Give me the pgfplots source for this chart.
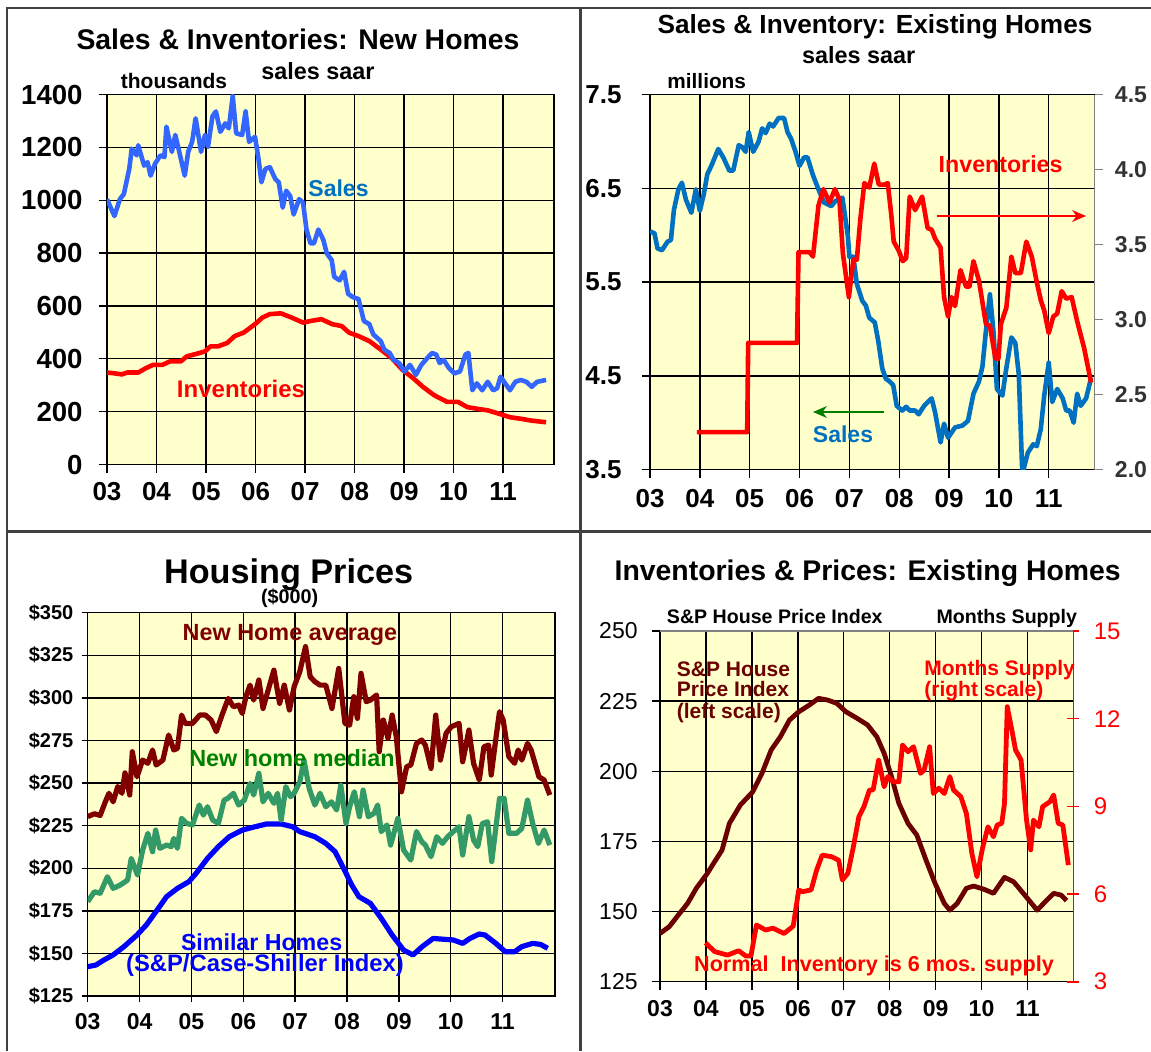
\documentclass[border=0pt]{standalone}
\usepackage{fontspec}
\setmainfont{Liberation Sans}
\usepackage{pgfplots}
\pgfplotsset{compat=1.18}
\usetikzlibrary{arrows.meta}

\definecolor{bgy}{HTML}{FFFFCC}
\definecolor{salesA}{HTML}{3366FF}
\definecolor{salesB}{HTML}{0070C0}
\definecolor{dred}{HTML}{800000}
\definecolor{ddred}{HTML}{6B0000}
\definecolor{mgreen}{HTML}{339966}
\definecolor{tgreen}{HTML}{008000}
\definecolor{frame}{HTML}{404040}

\newcommand{\tf}[1]{\fontsize{#1}{#1}\selectfont\bfseries}
\newcommand{\rf}[1]{\fontsize{#1}{#1}\selectfont}

\pgfplotsset{
  panel/.style={
    scale only axis, anchor=south west, xmin=3,
    xtick={3,...,11}, xticklabels={03,04,05,06,07,08,09,10,11},
    grid=major, major grid style={black, line width=0.7pt},
    axis line style={black, line width=0.7pt},
    tick style={black, line width=0.7pt},
    tick align=outside, major tick length=4pt,
    xtick pos=bottom, ytick pos=left,
    axis background/.style={fill=bgy},
    /pgf/number format/assume math mode=true,
    every axis plot/.append style={line join=round},
  },
  twin/.style={
    scale only axis, anchor=south west, xmin=3,
    axis x line=none, axis y line*=right,
    tick align=outside, major tick length=4pt,
    /pgf/number format/assume math mode=true,
    every axis plot/.append style={line join=round},
  },
}

\begin{document}
\begin{tikzpicture}
\fill[white] (0,0) rectangle (575.5pt,-525.5pt);
\useasboundingbox (0,0) rectangle (575.5pt,-525.5pt);

% ---------------- Panel 1 ----------------
\begin{axis}[panel, at={(53.5pt,-232.25pt)}, width=223.5pt, height=185pt,
  xmax=12.03, ymin=0, ymax=1400,
  ytick={0,200,400,600,800,1000,1200,1400},
  yticklabels={0,200,400,600,800,1000,1200,1400},
  yticklabel style={anchor=east, inner sep=0pt, xshift=-8pt, font=\tf{13.8}},
  xticklabel style={anchor=center, yshift=-9.5pt, font=\tf{13}},
]
\addplot[red, line width=2.3pt, no markers] coordinates {
(3.00,348)(3.15,345)(3.30,341)(3.41,348)(3.63,348)(3.78,364)(3.93,377)(4.12,377)(4.27,390)(4.49,390)(4.61,409)(4.87,422)(4.98,428)(5.09,447)(5.24,447)(5.43,460)(5.58,486)(5.76,499)(5.99,531)(6.14,556)(6.29,569)(6.51,572)(6.73,556)(6.96,537)(7.11,543)(7.33,550)(7.55,531)(7.74,524)(7.89,499)(8.08,486)(8.30,467)(8.53,435)(8.75,403)(8.97,358)(9.19,326)(9.38,294)(9.61,262)(9.87,237)(10.09,237)(10.28,217)(10.47,211)(10.69,205)(10.92,192)(11.14,179)(11.36,173)(11.58,166)(11.87,160)};
\addplot[salesA, line width=2.3pt, no markers] coordinates {
(3.00,1004)(3.15,940)(3.26,1004)(3.34,1023)(3.45,1119)(3.50,1195)(3.60,1170)(3.63,1208)(3.75,1131)(3.82,1144)(3.88,1093)(3.97,1138)(4.08,1170)(4.16,1163)(4.20,1278)(4.31,1183)(4.38,1247)(4.46,1183)(4.57,1093)(4.64,1183)(4.72,1221)(4.79,1310)(4.90,1183)(4.98,1247)(5.04,1202)(5.13,1317)(5.20,1336)(5.29,1259)(5.39,1291)(5.46,1272)(5.54,1394)(5.61,1253)(5.73,1247)(5.80,1336)(5.87,1221)(5.99,1240)(6.06,1157)(6.12,1068)(6.20,1119)(6.29,1125)(6.40,1080)(6.47,1068)(6.55,972)(6.62,1036)(6.70,1016)(6.77,946)(6.88,1004)(6.96,991)(7.03,889)(7.11,837)(7.18,837)(7.27,889)(7.37,850)(7.44,799)(7.54,773)(7.59,710)(7.70,697)(7.79,729)(7.87,646)(7.97,633)(8.08,626)(8.19,543)(8.30,531)(8.38,492)(8.53,467)(8.60,435)(8.71,422)(8.79,396)(8.90,384)(9.01,352)(9.12,377)(9.24,339)(9.35,377)(9.50,409)(9.57,422)(9.65,416)(9.72,384)(9.80,396)(9.91,364)(10.02,345)(10.13,352)(10.24,416)(10.30,422)(10.38,281)(10.47,307)(10.58,281)(10.69,313)(10.80,281)(10.88,288)(10.95,332)(11.07,300)(11.14,281)(11.25,313)(11.36,320)(11.47,313)(11.58,294)(11.69,313)(11.87,320)};
\end{axis}

% ---------------- Panel 2 ----------------
\begin{axis}[panel, at={(325pt,-234.8pt)}, width=222.3pt, height=187.5pt,
  xmax=11.92, ymin=3.5, ymax=7.5,
  ytick={3.5,4.5,5.5,6.5,7.5}, yticklabels={3.5,4.5,5.5,6.5,7.5},
  yticklabel style={anchor=east, inner sep=0pt, xshift=-10pt, font=\tf{13}},
  xticklabel style={anchor=center, yshift=-10.4pt, font=\tf{13}},
]
\addplot[salesB, line width=2.3pt, no markers] coordinates {
(3.00,6.04)(3.09,6.02)(3.15,5.86)(3.24,5.84)(3.35,5.93)(3.42,5.95)(3.48,6.27)(3.57,6.49)(3.64,6.56)(3.72,6.38)(3.83,6.24)(3.92,6.49)(4.00,6.26)(4.08,6.44)(4.15,6.65)(4.23,6.74)(4.37,6.92)(4.48,6.82)(4.59,6.69)(4.67,6.69)(4.78,6.96)(4.85,6.94)(4.92,6.89)(4.98,7.10)(5.07,6.89)(5.18,7.00)(5.25,7.14)(5.32,7.09)(5.40,7.19)(5.47,7.16)(5.58,7.25)(5.69,7.25)(5.76,7.10)(5.83,7.03)(5.92,6.89)(6.00,6.74)(6.09,6.83)(6.16,6.83)(6.27,6.64)(6.38,6.49)(6.49,6.35)(6.64,6.31)(6.71,6.36)(6.86,6.40)(6.97,5.99)(7.00,5.77)(7.08,5.77)(7.15,5.48)(7.26,5.30)(7.33,5.25)(7.40,5.12)(7.51,5.07)(7.58,4.87)(7.66,4.58)(7.73,4.47)(7.81,4.44)(7.88,4.40)(7.95,4.18)(8.06,4.13)(8.14,4.17)(8.21,4.13)(8.32,4.13)(8.39,4.09)(8.50,4.18)(8.65,4.26)(8.72,4.11)(8.83,3.79)(8.90,3.99)(8.98,3.84)(9.12,3.95)(9.27,3.97)(9.38,4.02)(9.49,4.31)(9.60,4.44)(9.67,4.60)(9.74,4.98)(9.82,5.37)(9.89,4.98)(9.96,4.36)(10.07,4.29)(10.14,4.55)(10.25,4.91)(10.33,4.85)(10.40,4.51)(10.47,3.45)(10.58,3.68)(10.69,3.77)(10.76,3.75)(10.84,3.93)(10.91,4.29)(11.00,4.64)(11.07,4.22)(11.17,4.36)(11.28,4.26)(11.35,4.13)(11.42,4.13)(11.50,4.00)(11.57,4.31)(11.64,4.18)(11.75,4.26)(11.85,4.48)};
\end{axis}
\begin{axis}[twin, at={(325pt,-234.8pt)}, width=222.3pt, height=187.5pt,
  xmax=11.92, ymin=2.0, ymax=4.5,
  ytick={2.0,2.5,3.0,3.5,4.0,4.5}, yticklabels={2.0,2.5,3.0,3.5,4.0,4.5},
  y axis line style={gray, line width=0.7pt}, ytick style={gray, line width=0.7pt},
  yticklabel style={anchor=west, inner sep=0pt, xshift=6pt, font=\tf{11.5}, text=black!80},
]
\addplot[red, line width=2.3pt, no markers] coordinates {
(3.94,2.25)(4.95,2.25)(4.97,2.845)(5.95,2.845)(5.98,3.45)(6.20,3.45)(6.27,3.42)(6.38,3.76)(6.48,3.87)(6.60,3.78)(6.71,3.87)(6.80,3.80)(6.87,3.44)(6.99,3.15)(7.08,3.40)(7.15,3.40)(7.22,3.67)(7.30,3.91)(7.40,3.88)(7.50,4.04)(7.59,3.90)(7.70,3.90)(7.77,3.91)(7.84,3.70)(7.89,3.52)(7.99,3.46)(8.07,3.39)(8.14,3.41)(8.21,3.82)(8.32,3.73)(8.46,3.82)(8.57,3.61)(8.65,3.60)(8.72,3.54)(8.83,3.48)(8.90,3.15)(8.98,3.02)(9.05,3.15)(9.12,3.09)(9.23,3.33)(9.34,3.22)(9.41,3.22)(9.49,3.39)(9.60,3.26)(9.74,2.97)(9.82,2.96)(9.93,2.74)(9.99,2.74)(10.04,2.97)(10.15,3.08)(10.25,3.42)(10.33,3.31)(10.44,3.31)(10.55,3.52)(10.66,3.42)(10.76,3.25)(10.84,3.13)(10.91,3.06)(11.00,2.91)(11.09,3.02)(11.17,3.04)(11.26,3.19)(11.35,3.14)(11.46,3.15)(11.57,2.99)(11.71,2.81)(11.85,2.58)};
\end{axis}

% ---------------- Panel 3 ----------------
\begin{axis}[panel, at={(43.85pt,-498pt)}, width=233.65pt, height=191.65pt,
  xmax=12.01, ymin=125, ymax=350,
  ytick={125,150,...,350},
  yticklabels={\$125,\$150,\$175,\$200,\$225,\$250,\$275,\$300,\$325,\$350},
  major tick length=3pt,
  yticklabel style={anchor=east, inner sep=0pt, xshift=-4pt, font=\tf{10}},
  xticklabel style={anchor=center, yshift=-9.8pt, font=\tf{11.5}},
]
\addplot[blue, line width=2.6pt, no markers] coordinates {
(3.00,142.2)(3.16,143.2)(3.31,146.1)(3.49,149.1)(3.70,154.0)(3.95,160.8)(4.13,166.7)(4.34,175.5)(4.52,183.3)(4.73,188.2)(4.95,192.1)(5.09,197.0)(5.31,205.8)(5.52,212.7)(5.73,218.5)(5.98,222.4)(6.23,224.4)(6.45,226.0)(6.73,226.0)(6.95,224.4)(7.09,221.5)(7.38,218.5)(7.59,214.6)(7.77,209.7)(7.95,199.0)(8.09,190.2)(8.23,183.3)(8.45,179.4)(8.66,170.6)(8.87,160.8)(9.09,152.0)(9.27,149.1)(9.45,154.0)(9.66,158.8)(9.87,158.3)(10.05,157.9)(10.23,155.9)(10.37,158.8)(10.55,161.4)(10.66,160.8)(10.87,155.9)(11.05,151.0)(11.23,151.0)(11.37,154.0)(11.58,155.9)(11.73,155.3)(11.87,153.0)};
\addplot[mgreen, line width=2.6pt, no markers] coordinates {
(3.00,180.4)(3.13,186.2)(3.24,185.3)(3.38,195.0)(3.49,188.2)(3.63,190.2)(3.77,193.1)(3.84,205.8)(3.96,196.0)(4.06,210.7)(4.16,220.5)(4.25,209.7)(4.31,222.4)(4.39,211.7)(4.52,213.6)(4.61,212.7)(4.66,217.5)(4.73,211.7)(4.81,229.3)(4.91,226.3)(5.02,225.4)(5.15,237.1)(5.23,231.2)(5.31,236.1)(5.41,228.3)(5.52,226.3)(5.63,240.0)(5.70,241.0)(5.81,244.0)(5.91,237.1)(6.02,240.0)(6.13,249.8)(6.20,243.0)(6.30,255.7)(6.38,239.0)(6.48,244.0)(6.59,238.1)(6.66,244.0)(6.73,228.3)(6.82,247.9)(6.91,242.0)(6.98,244.0)(7.09,250.8)(7.17,263.5)(7.27,246.9)(7.38,237.1)(7.48,244.0)(7.59,236.1)(7.70,239.0)(7.80,234.2)(7.88,248.8)(7.98,226.3)(8.05,236.1)(8.14,244.9)(8.24,230.3)(8.31,245.9)(8.41,230.3)(8.52,232.2)(8.59,237.1)(8.66,221.5)(8.77,225.4)(8.84,213.6)(8.98,229.3)(9.09,210.7)(9.23,204.8)(9.34,221.5)(9.44,215.6)(9.51,213.6)(9.62,206.8)(9.73,218.5)(9.84,214.6)(9.94,218.5)(10.05,221.5)(10.16,224.4)(10.23,207.8)(10.35,230.3)(10.44,216.6)(10.52,212.7)(10.61,226.3)(10.71,227.3)(10.79,203.9)(10.86,221.5)(10.94,241.0)(11.03,241.0)(11.12,220.5)(11.27,220.5)(11.37,223.4)(11.48,240.0)(11.58,226.3)(11.69,214.6)(11.80,222.4)(11.91,213.6)};
\addplot[dred, line width=2.6pt, no markers] coordinates {
(3.00,230.3)(3.13,232.0)(3.24,231.0)(3.34,239.0)(3.41,244.0)(3.49,239.0)(3.58,248.0)(3.66,244.0)(3.72,256.0)(3.81,243.0)(3.86,268.4)(3.95,253.7)(4.06,263.5)(4.16,261.6)(4.25,269.4)(4.32,260.6)(4.45,263.5)(4.56,278.2)(4.66,269.4)(4.73,270.4)(4.81,289.9)(4.88,285.0)(5.02,285.0)(5.16,289.9)(5.27,289.9)(5.38,287.0)(5.48,280.2)(5.59,289.9)(5.71,299.7)(5.81,294.8)(5.91,295.8)(5.98,290.9)(6.05,300.7)(6.13,307.5)(6.20,298.7)(6.30,310.5)(6.38,293.8)(6.48,304.6)(6.59,316.3)(6.70,296.8)(6.79,307.5)(6.89,292.9)(6.98,306.6)(7.09,315.4)(7.20,330.1)(7.29,312.4)(7.38,309.5)(7.48,307.5)(7.59,307.5)(7.71,293.8)(7.84,317.3)(7.96,285.0)(8.05,284.0)(8.13,300.7)(8.20,288.0)(8.27,314.4)(8.37,297.8)(8.45,298.7)(8.57,301.7)(8.62,268.4)(8.70,287.0)(8.79,276.2)(8.87,289.9)(8.95,277.2)(9.05,244.9)(9.15,259.6)(9.23,260.6)(9.34,273.3)(9.44,275.3)(9.51,272.3)(9.62,258.6)(9.71,289.9)(9.80,263.5)(9.91,279.2)(10.01,283.1)(10.16,285.0)(10.23,262.5)(10.35,281.1)(10.44,261.6)(10.55,251.8)(10.64,271.3)(10.73,272.3)(10.78,254.7)(10.87,276.2)(10.94,291.9)(11.01,287.0)(11.12,265.5)(11.23,261.6)(11.30,269.4)(11.37,263.5)(11.48,273.3)(11.55,269.4)(11.70,253.7)(11.80,251.8)(11.91,243.0)};
\end{axis}

% ---------------- Panel 4 ----------------
\begin{axis}[panel, at={(330pt,-490.85pt)}, width=206.7pt, height=175.35pt,
  xmax=12.0, ymin=125, ymax=250,
  ytick={125,150,...,250}, yticklabels={125,150,175,200,225,250},
  yticklabel style={anchor=east, inner sep=0pt, xshift=-7pt, font=\rf{11.5}},
  xticklabel style={anchor=center, yshift=-9.3pt, font=\tf{11.5}},
]
\addplot[ddred, line width=2.4pt, no markers] coordinates {
(3.00,142.2)(3.20,144.6)(3.40,148.8)(3.60,152.9)(3.79,158.3)(4.03,163.6)(4.19,167.8)(4.35,171.9)(4.51,181.4)(4.75,188.0)(5.02,192.7)(5.22,199.3)(5.42,207.6)(5.62,212.3)(5.82,218.3)(6.02,221.2)(6.25,223.6)(6.45,226.0)(6.65,225.4)(6.85,224.2)(7.05,221.2)(7.29,218.9)(7.52,216.5)(7.72,212.3)(7.88,206.4)(8.04,198.1)(8.20,188.6)(8.40,181.4)(8.59,177.3)(8.79,168.4)(8.99,160.0)(9.19,152.9)(9.31,150.5)(9.47,152.9)(9.67,158.3)(9.83,159.1)(10.06,157.9)(10.26,156.5)(10.50,162.2)(10.70,160.6)(10.94,155.9)(11.21,150.5)(11.37,153.2)(11.57,156.5)(11.73,155.9)(11.85,153.9)};
\end{axis}
\begin{axis}[twin, at={(330pt,-490.85pt)}, width=206.7pt, height=175.35pt,
  xmax=12.0, ymin=3, ymax=15,
  ytick={3,6,9,12,15}, yticklabels={3,6,9,12,15},
  tick align=center, major tick length=6pt,
  y axis line style={red, line width=0.8pt}, ytick style={red, line width=0.8pt},
  yticklabel style={anchor=west, inner sep=0pt, xshift=7pt, font=\rf{12}, text=red},
]
\addplot[red, line width=2.4pt, no markers] coordinates {
(3.99,4.33)(4.19,4.03)(4.47,3.91)(4.71,4.06)(4.87,3.88)(4.98,3.88)(5.10,4.94)(5.30,4.77)(5.46,4.83)(5.70,4.65)(5.90,4.90)(6.02,6.14)(6.10,6.08)(6.29,6.14)(6.41,6.82)(6.53,7.33)(6.73,7.28)(6.89,7.16)(6.97,6.48)(7.09,6.71)(7.21,7.62)(7.33,8.65)(7.44,8.99)(7.56,9.56)(7.64,9.56)(7.76,10.59)(7.88,9.67)(7.96,10.02)(8.08,9.84)(8.20,9.84)(8.28,11.10)(8.40,10.87)(8.52,11.04)(8.67,10.13)(8.75,10.24)(8.87,11.04)(8.95,9.44)(9.07,9.62)(9.19,9.44)(9.31,10.02)(9.39,9.56)(9.55,9.33)(9.67,8.76)(9.79,7.39)(9.90,6.59)(10.02,7.56)(10.14,8.30)(10.26,7.96)(10.34,8.36)(10.44,8.42)(10.50,9.10)(10.56,12.41)(10.66,11.61)(10.74,10.93)(10.86,10.59)(10.98,8.53)(11.07,7.51)(11.13,8.53)(11.25,8.30)(11.33,8.99)(11.49,9.16)(11.57,9.39)(11.67,8.42)(11.77,8.36)(11.89,6.99)};
\end{axis}

% ---------------- Texts and frames ----------------
\begin{scope}[x=0.5pt, y=-0.5pt]
\draw[frame, line width=1.2pt] (7,1051) -- (7,8) -- (1151,8);
\draw[frame, line width=1.5pt] (580,8) -- (580,1051);
\draw[frame, line width=1.5pt] (7,531) -- (1151,531);
\draw[gray, line width=0.7pt] (660,631) -- (1073.4,631);

% panel 1
\node[anchor=base, inner sep=0] at (298,49) {\tf{14.2}Sales \& Inventories: New Homes};
\node[anchor=base, inner sep=0] at (318,79.4) {\tf{11.7}sales saar};
\node[anchor=base, inner sep=0] at (174,88.5) {\tf{10.5}thousands};
\node[anchor=base, inner sep=0, text=salesB] at (338.5,196) {\tf{11.5}Sales};
\node[anchor=base, inner sep=0, text=red] at (241,397) {\tf{12}Inventories};

% panel 2
\node[anchor=base, inner sep=0] at (875,33.8) {\tf{13.1}Sales \& Inventory: Existing Homes};
\node[anchor=base, inner sep=0] at (858.6,63.5) {\tf{11.7}sales saar};
\node[anchor=base, inner sep=0] at (706.7,88.5) {\tf{10.4}millions};
\node[anchor=base, inner sep=0, text=red] at (1000.6,172.3) {\tf{11.6}Inventories};
\node[anchor=base, inner sep=0, text=salesB] at (843,442.6) {\tf{11.5}Sales};
\draw[red, line width=0.6pt, -{Stealth[length=7pt,width=6pt]}] (937,216) -- (1086,216);
\draw[tgreen, line width=0.6pt, -{Stealth[length=7pt,width=6pt]}] (884,412) -- (813,412);

% panel 3
\node[anchor=base, inner sep=0] at (288.6,583.3) {\tf{17.1}Housing Prices};
\node[anchor=base, inner sep=0] at (289.7,603) {\tf{9.9}(\$000)};
\node[anchor=base, inner sep=0, text=dred] at (290,640) {\tf{11.7}New Home average};
\node[anchor=base, inner sep=0, text=tgreen] at (292,766) {\tf{11.7}New home median};
\node[anchor=base, inner sep=0, text=blue] at (261.6,950) {\tf{11.6}Similar Homes};
\node[anchor=base, inner sep=0, text=blue] at (265,971.7) {\tf{11.9}(S\&P/Case-Shiller Index)};

% panel 4
\node[anchor=base, inner sep=0] at (867.7,580.7) {\tf{14.2}Inventories \& Prices: Existing Homes};
\node[anchor=base, inner sep=0] at (774.8,623.3) {\tf{9.8}S\&P House Price Index};
\node[anchor=base, inner sep=0] at (1006.8,623.3) {\tf{9.8}Months Supply};
\node[anchor=base west, inner sep=0, text=ddred] at (676.5,676.7) {\tf{10.5}S\&P House};
\node[anchor=base west, inner sep=0, text=ddred] at (676.5,696.7) {\tf{10.5}Price Index};
\node[anchor=base west, inner sep=0, text=ddred] at (676.5,718.3) {\tf{10.5}(left scale)};
\node[anchor=base west, inner sep=0, text=red] at (924,675.7) {\tf{10.5}Months Supply};
\node[anchor=base west, inner sep=0, text=red] at (924,696.7) {\tf{10.5}(right scale)};
\node[anchor=base, inner sep=0, text=red] at (874,971.7) {\tf{10.8}Normal\ \ Inventory is 6 mos. supply};
\end{scope}
\end{tikzpicture}
\end{document}
